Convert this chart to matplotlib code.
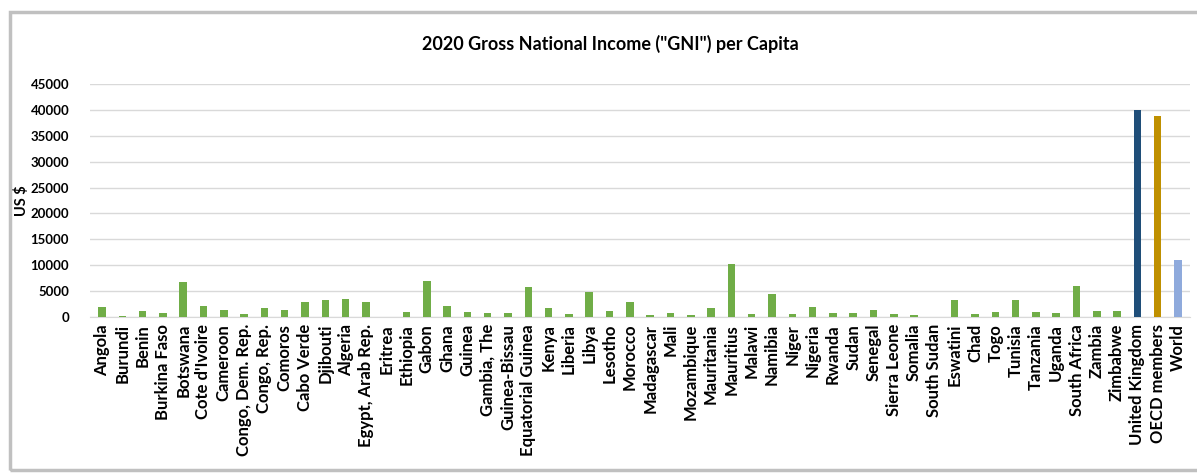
import matplotlib.pyplot as plt
import numpy as np
from matplotlib.patches import Rectangle

plt.rcParams['font.family'] = ['Lato', 'DejaVu Sans']

countries = ['Angola', 'Burundi', 'Benin', 'Burkina Faso', 'Botswana', "Cote d'Ivoire",
             'Cameroon', 'Congo, Dem. Rep.', 'Congo, Rep.', 'Comoros', 'Cabo Verde',
             'Djibouti', 'Algeria', 'Egypt, Arab Rep.', 'Eritrea', 'Ethiopia', 'Gabon',
             'Ghana', 'Guinea', 'Gambia, The', 'Guinea-Bissau', 'Equatorial Guinea',
             'Kenya', 'Liberia', 'Libya', 'Lesotho', 'Morocco', 'Madagascar', 'Mali',
             'Mozambique', 'Mauritania', 'Mauritius', 'Malawi', 'Namibia', 'Niger',
             'Nigeria', 'Rwanda', 'Sudan', 'Senegal', 'Sierra Leone', 'Somalia',
             'South Sudan', 'Eswatini', 'Chad', 'Togo', 'Tunisia', 'Tanzania', 'Uganda',
             'South Africa', 'Zambia', 'Zimbabwe']
gni_africa = [1950, 230, 1200, 750, 6700, 2200, 1400, 500, 1800, 1400, 2900,
              3300, 3550, 2900, 0, 900, 6900, 2200, 1000, 700, 700, 5750,
              1800, 550, 4900, 1200, 2900, 480, 800, 460, 1670, 10200, 500, 4450, 550,
              1950, 750, 700, 1400, 500, 300,
              0, 3350, 600, 900, 3350, 950, 750, 5990, 1150, 1150]

benchmarks = ['United Kingdom', 'OECD members', 'World']
gni_benchmarks = [39900, 38750, 11080]

labels = countries + benchmarks
values = gni_africa + gni_benchmarks
colors = ['#70AD47'] * len(countries) + ['#1F4E79', '#BF9000', '#8FAADC']

fig = plt.figure(figsize=(11.97, 4.76), dpi=100)
ax = fig.add_axes([90 / 1197, 159 / 476, 1100 / 1197, 233 / 476])

x = np.arange(len(labels))
ax.bar(x, values, width=0.37, color=colors, zorder=3)

ax.set_xlim(-0.59, len(labels) - 1 + 0.59)
ax.set_ylim(0, 45000)
ax.set_yticks(np.arange(0, 45001, 5000))
ax.yaxis.grid(True, color='#D9D9D9', linewidth=1, zorder=0)
for side in ['top', 'right', 'left']:
    ax.spines[side].set_visible(False)
ax.spines['bottom'].set_color('#D9D9D9')
ax.tick_params(axis='both', length=0)
ax.tick_params(axis='y', pad=15, labelsize=9.5)
ax.tick_params(axis='x', pad=5)
ax.set_xticks(x)
ax.set_xticklabels(labels, rotation=90, fontweight='bold', fontsize=12)
for t in ax.get_yticklabels():
    t.set_fontweight('bold')

ax.set_ylabel('US $', fontweight='bold', fontsize=10.5)
ax.yaxis.set_label_coords(-61 / 1100, 0.5)

fig.text(610 / 1197, 1 - 44 / 476, '2020 Gross National Income ("GNI") per Capita',
         ha='center', va='center', fontsize=13, fontweight='bold')

# chart frame
fig.patches.append(Rectangle((10 / 1197, 6 / 476), 1.2, 1 - 18 / 476,
                             transform=fig.transFigure, fill=False,
                             edgecolor='#C0C0C0', linewidth=2.5))

fig.savefig('out.png', dpi=100)
